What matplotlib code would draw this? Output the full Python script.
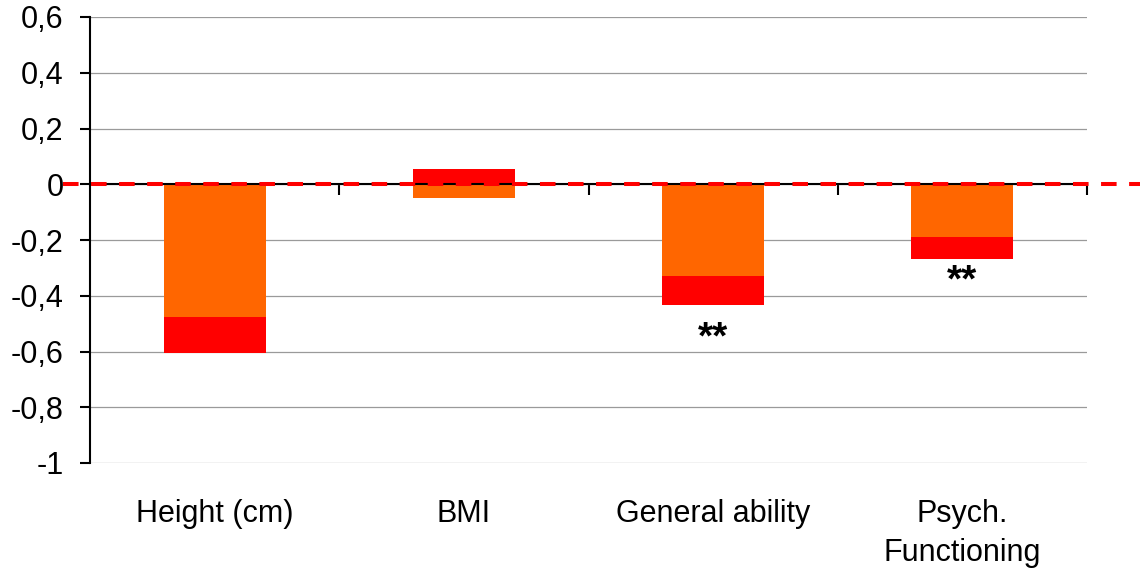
import matplotlib

matplotlib.use("Agg")
import matplotlib.pyplot as plt
import matplotlib.transforms as mtransforms
import numpy as np

# values (stacked segments)
categories = ["Height (cm)", "BMI", "General ability", "Psych.\nFunctioning"]
orange_vals = [-0.478, -0.049, -0.330, -0.190]
red_vals = [-0.128, 0.053, -0.102, -0.078]
star_labels = ["", "", "**", "**"]
star_y = [0, 0, -0.588, -0.383]
yticks = [0.6, 0.4, 0.2, 0, -0.2, -0.4, -0.6, -0.8, -1]

ORANGE = "#FF6600"
RED = "#FF0000"
GRID = "#9a9a9a"

plt.rcParams.update({
    "font.family": ["Liberation Sans", "DejaVu Sans"], "font.size": 22,
    "axes.linewidth": 1.5,
})

fig = plt.figure(figsize=(11.43, 5.71), dpi=100)
ax = fig.add_axes([90 / 1143, 1 - 463 / 571, 997 / 1143, 446 / 571])

x = np.arange(len(categories))
w = 0.41
orange = np.array(orange_vals)
red = np.array(red_vals)
# red stacks on orange when same sign, otherwise starts at zero
red_bottom = np.where(np.sign(red) == np.sign(orange), orange, 0)
ax.bar(x, orange, w, color=ORANGE, zorder=2)
ax.bar(x, red, w, bottom=red_bottom, color=RED, zorder=2)

for xi, s, sy in zip(x, star_labels, star_y):
    if s:
        ax.text(xi, sy, s, ha="center", va="baseline", fontsize=28,
                fontweight="bold", zorder=5)

ax.set_xlim(-0.5, len(categories) - 0.5)
ax.set_ylim(-1, 0.6)
ax.set_yticks(yticks)
ax.set_yticklabels([("%g" % v).replace(".", ",") for v in yticks])
ax.yaxis.grid(True, color=GRID, linewidth=0.9, zorder=0)
ax.set_axisbelow(True)
ax.tick_params(axis="y", direction="out", length=7, width=1.5, pad=12)

# x axis sits on zero, ticks at category boundaries
ax.spines["bottom"].set_position(("data", 0))
ax.spines["bottom"].set_zorder(3)
ax.set_xticks(np.arange(len(categories)) + 0.5)
ax.set_xticklabels([])
ax.tick_params(axis="x", direction="out", length=8, width=1.5)
for s in ("top", "right"):
    ax.spines[s].set_visible(False)

trans = mtransforms.blended_transform_factory(ax.transData, ax.transAxes)
for xi, lab in zip(x, categories):
    ax.text(xi, -0.081, lab, ha="center", va="top", transform=trans,
            linespacing=1.38)

# red dashed reference line at zero, running past the axes
lw = 2.9
ax.axhline(0, xmin=-0.027, xmax=1.053, color=RED, linewidth=lw,
           dashes=(11.2 / lw, 9.0 / lw), clip_on=False, zorder=4)

fig.savefig("out.png", dpi=100)
